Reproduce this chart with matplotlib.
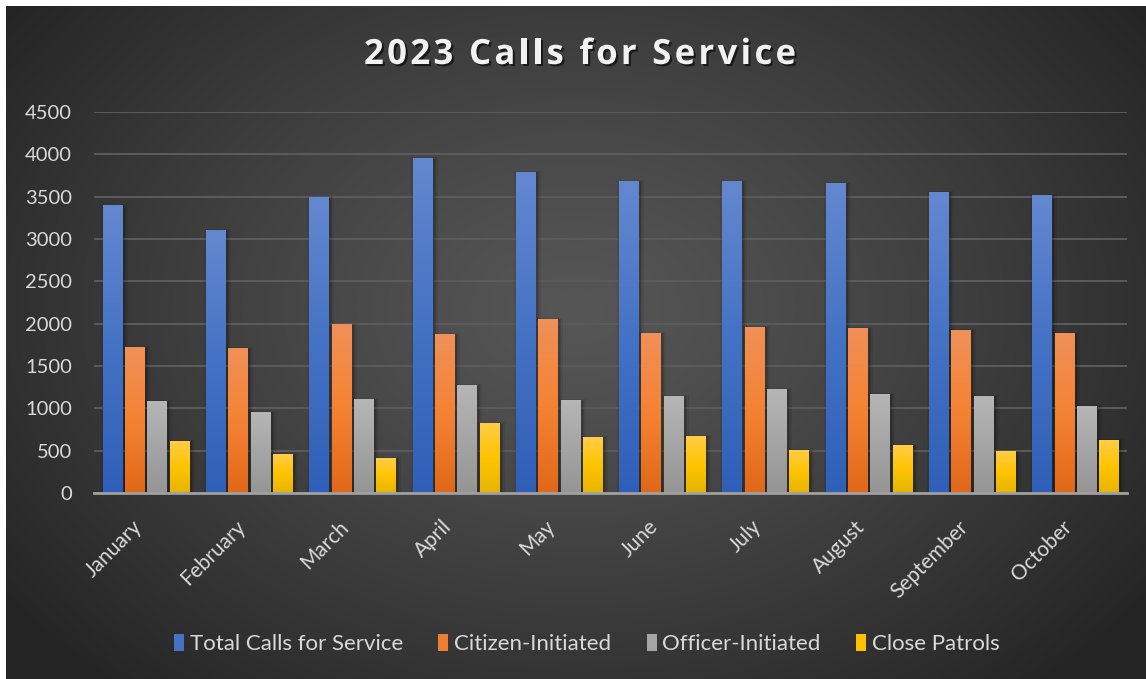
import matplotlib
matplotlib.use('Agg')
import matplotlib.pyplot as plt
import matplotlib.patheffects as pe
from matplotlib.colors import LinearSegmentedColormap
from matplotlib.patches import Rectangle, Patch
import numpy as np

months = ['January', 'February', 'March', 'April', 'May', 'June', 'July',
          'August', 'September', 'October']
total_calls = [3390, 3095, 3485, 3945, 3790, 3675, 3675, 3650, 3555, 3510]
citizen = [1715, 1705, 1985, 1870, 2045, 1880, 1960, 1940, 1925, 1880]
officer = [1078, 948, 1100, 1265, 1090, 1135, 1220, 1160, 1135, 1018]
patrols = [605, 452, 405, 818, 653, 664, 499, 558, 487, 617]
title = '2023 Calls for Service'

series = [
    ('Total Calls for Service', total_calls, ['#2f5fb8', '#4472c4', '#6488d0'], '#4472c4'),
    ('Citizen-Initiated', citizen, ['#e06818', '#f58233', '#f09058'], '#ed7d31'),
    ('Officer-Initiated', officer, ['#959595', '#a5a5a5', '#b6b6b6'], '#a5a5a5'),
    ('Close Patrols', patrols, ['#e6b400', '#ffc400', '#ffcd47'], '#ffc000'),
]
font = ['Lato', 'DejaVu Sans']

W, H = 1146, 679
fig = plt.figure(figsize=(W / 100, H / 100), dpi=100, facecolor='white')

# Dark radial background (white strip on top/left like the screenshot)
bg = fig.add_axes([6 / W, 0, 1 - 6 / W, 1 - 6 / H])
yy, xx = np.mgrid[0:1:300j, 0:1:500j]
r = np.sqrt(((xx - 0.5) / 0.62) ** 2 + ((yy - 0.55) / 0.75) ** 2)
r = np.clip(r, 0, 1)
c0 = np.array([0x56, 0x56, 0x56]) / 255
c1 = np.array([0x25, 0x25, 0x25]) / 255
img = c0 + (c1 - c0) * r[..., None] ** 1.2
bg.imshow(img, aspect='auto', extent=(0, 1, 0, 1), origin='lower')
bg.set_axis_off()

ax = fig.add_axes([94 / W, 1 - 493 / H, (1127 - 94) / W, (493 - 112) / H])
ax.set_facecolor('none')

x = np.arange(len(months))
step = 0.216
width = 0.184
px_x = 1 / 103.3
px_y = 4500 / 381.0

grad = np.linspace(0, 1, 256).reshape(-1, 1)
for i, (name, vals, cols, solid) in enumerate(series):
    cmap = LinearSegmentedColormap.from_list(name, cols)
    for xi, v in zip(x, vals):
        x0 = xi + (i - 1.5) * step - width / 2
        # soft shadow
        for k, a in [(4, 0.07), (2, 0.1), (1, 0.12)]:
            ax.add_patch(Rectangle((x0 - k * px_x + 2 * px_x, 0), width + 2 * k * px_x,
                                   v + (k - 1) * px_y * 0.5, facecolor='black',
                                   edgecolor='none', alpha=a, zorder=2))
        ax.imshow(grad, cmap=cmap, aspect='auto', origin='lower',
                  extent=(x0, x0 + width, 0, v), zorder=3)

ax.set_xlim(-0.5, len(months) - 0.5)
ax.set_ylim(0, 4500)
ax.set_yticks(np.arange(0, 4501, 500))
ax.yaxis.grid(True, color='#5c5c5c', linewidth=1.4)
ax.set_axisbelow(True)
for s in ['top', 'right', 'left']:
    ax.spines[s].set_visible(False)
ax.spines['bottom'].set_color('#a0a0a0')
ax.spines['bottom'].set_linewidth(2)
ax.spines['bottom'].set_zorder(5)

ax.set_xticks(x)
ax.set_xticklabels(months, rotation=45, ha='right', fontsize=15,
                   color='#d9d9d9', family=font)
ax.tick_params(axis='x', length=0, pad=17)
ax.tick_params(axis='y', length=0, pad=16, labelsize=14.5, labelcolor='#d9d9d9')
for lab in ax.get_yticklabels():
    lab.set_family(font)

# Title with letter spacing, drawn character by character
fig.canvas.draw()
renderer = fig.canvas.get_renderer()
tprops = dict(fontsize=25, fontweight='bold', family=['Open Sans', 'DejaVu Sans'])


def text_w(s):
    t = fig.text(0, 0, s + '|', **tprops)
    w = t.get_window_extent(renderer).width
    t.remove()
    return w


bar_w = text_w('')
spacing = 3.3
offsets = [text_w(title[:i]) - bar_w + i * spacing for i in range(len(title))]
total_w = text_w(title) - bar_w + (len(title) - 1) * spacing
x_start = 580 - total_w / 2
for ch, off in zip(title, offsets):
    if ch == ' ':
        continue
    fig.text((x_start + off) / W, 1 - 55 / H, ch, ha='left', va='center',
             color='#f2f2f2', **tprops,
             path_effects=[pe.SimplePatchShadow(offset=(1.5, -1.5), shadow_rgbFace='black',
                                                alpha=0.6), pe.Normal()])

handles = [Patch(facecolor=s[3], edgecolor='none', label=s[0]) for s in series]
leg = fig.legend(handles=handles, loc='center', bbox_to_anchor=(0.512, 1 - 644 / H),
                 ncol=4, frameon=False, handlelength=0.45,
                 handleheight=0.8, handletextpad=0.25, columnspacing=1.6,
                 prop={'family': font, 'size': 16})
for t in leg.get_texts():
    t.set_color('#d9d9d9')

fig.savefig('out.png', dpi=100, facecolor='white')
